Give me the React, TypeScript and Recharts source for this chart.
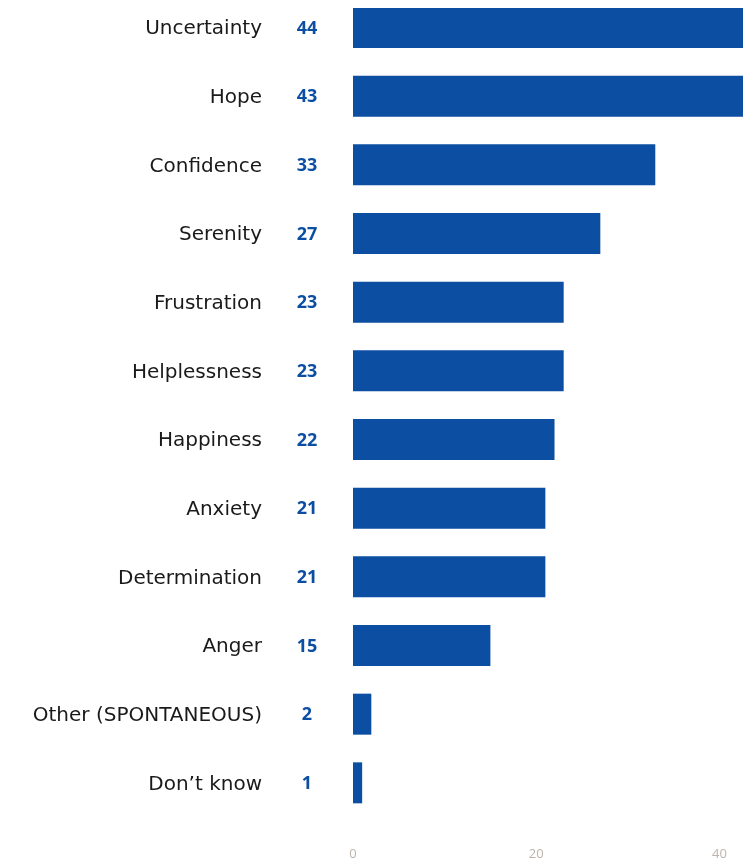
import React from "react";
import { BarChart, Bar, XAxis, YAxis } from "recharts";

const categories = [
  "Uncertainty",
  "Hope",
  "Confidence",
  "Serenity",
  "Frustration",
  "Helplessness",
  "Happiness",
  "Anxiety",
  "Determination",
  "Anger",
  "Other (SPONTANEOUS)",
  "Don\u2019t know",
];
const values = [44, 43, 33, 27, 23, 23, 22, 21, 21, 15, 2, 1];
const xTicks = [0, 20, 40];

const data = categories.map((c, i) => ({ name: c, value: values[i] }));

const BLUE = "#0b4ea2";
const FONT = "'DejaVu Sans', sans-serif";
const NUMFONT = "'Open Sans', sans-serif";

const CategoryTick = (props: any) => {
  const { y, payload, index } = props;
  const v = values[index ?? payload.index];
  return (
    <g>
      <text x={254} y={y} dy="0.35em" textAnchor="end" fontFamily={FONT} fontSize={20} fill="#1a1a1a">
        {payload.value}
      </text>
      <text x={299} y={y} dy="0.35em" textAnchor="middle" fontFamily={NUMFONT} fontSize={18} fontWeight={700} fill={BLUE}>
        {v}
      </text>
    </g>
  );
};

export default function App() {
  return (
    <div style={{ position: "fixed", left: 8, top: 8, width: 735, height: 853, overflow: "hidden" }}>
      <div style={{ position: "absolute", top: -15, left: 0, width: 803, height: 870 }}>
        <BarChart
          width={803}
          height={870}
          data={data}
          layout="vertical"
          margin={{ top: 0, right: 0, left: 0, bottom: 0 }}
          barSize={41}
        >
          <XAxis
            type="number"
            domain={[0, 50]}
            ticks={xTicks}
            axisLine={false}
            tickLine={false}
            tickSize={0}
            tickMargin={32}
            height={46}
            tick={{ fontFamily: NUMFONT, fontSize: 13, fill: "#bdb5ad" }}
          />
          <YAxis
            type="category"
            dataKey="name"
            width={345}
            axisLine={false}
            tickLine={false}
            interval={0}
            tick={<CategoryTick />}
          />
          <Bar dataKey="value" fill={BLUE} isAnimationActive={false} />
        </BarChart>
      </div>
    </div>
  );
}
